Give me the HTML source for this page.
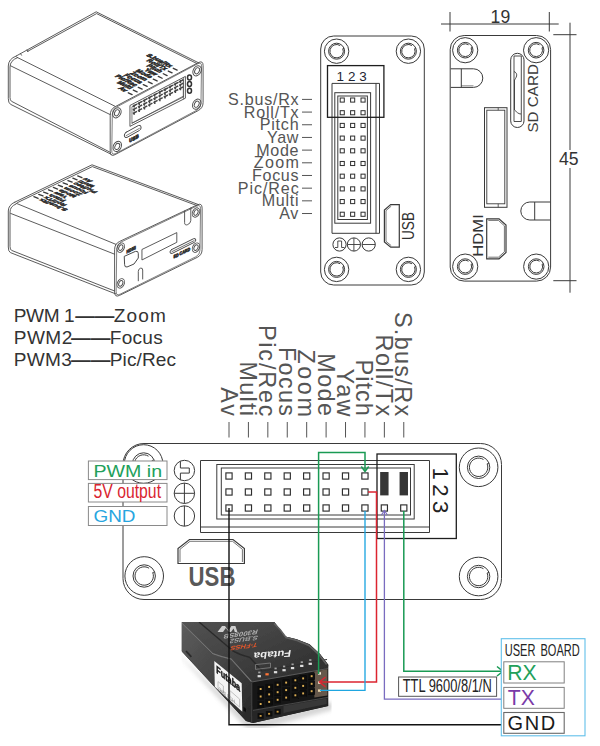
<!DOCTYPE html>
<html lang="en">
<head>
<meta charset="utf-8">
<title>Wiring diagram</title>
<style>
html,body{margin:0;padding:0;background:#fff;}
body{width:600px;height:746px;overflow:hidden;font-family:"Liberation Sans",sans-serif;}
svg{display:block;}
text{font-family:"Liberation Sans",sans-serif;}
.ln{fill:none;stroke:#3a3a3a;stroke-width:1;}
.iso{fill:none;stroke:#4a4a4a;stroke-width:0.9;stroke-linejoin:round;stroke-linecap:round;}
.blk{fill:none;stroke:#1e1e1e;stroke-width:1.3;}
.lbl{fill:#555;}
</style>
</head>
<body>
<svg width="600" height="746" viewBox="0 0 600 746">
<rect width="600" height="746" fill="#fff"/>

<g id="box1" class="iso"><path d="M16.2 56L96.2 11.8L199 63"/><path d="M27.5 51.4L96.6 13.6L197 63.6"/><path d="M20.5 53.6l1 1.6M27 50l1 1.6"/><path d="M16.2 56Q8.3 59 8.3 66V98.5Q8.3 103 10.5 104.3L111.2 154.3"/><path d="M17.5 57.6Q10 60.5 10 67V97.5Q10 100.3 11.5 101.3L110.2 152.3"/><path d="M16.8 57.2L114.7 106.1"/><path d="M10.6 65.8L110.2 114.6"/><path d="M110.20 114.80Q110.20 109.30 115.06 106.73L198.24 62.67Q203.10 60.10 203.10 65.60L203.10 102.50Q203.10 108.00 198.24 110.57L115.06 154.63Q110.20 157.20 110.20 151.70Z"/><path d="M112.33 113.77Q112.40 109.27 116.37 107.15L197.61 63.81Q201.58 61.69 201.51 66.19L200.97 103.53Q200.90 108.03 196.93 110.15L115.69 153.49Q111.72 155.61 111.79 151.11Z" stroke-width="0.7"/><ellipse cx="116.9" cy="112.8" rx="3.9" ry="5.4" transform="rotate(28 116.9 112.8)"/><ellipse cx="116.9" cy="112.8" rx="2.2" ry="3.3" transform="rotate(28 116.9 112.8)"/><ellipse cx="197.1" cy="70.8" rx="3.9" ry="5.4" transform="rotate(28 197.1 70.8)"/><ellipse cx="197.1" cy="70.8" rx="2.2" ry="3.3" transform="rotate(28 197.1 70.8)"/><ellipse cx="196.7" cy="104.2" rx="3.9" ry="5.4" transform="rotate(28 196.7 104.2)"/><ellipse cx="196.7" cy="104.2" rx="2.2" ry="3.3" transform="rotate(28 196.7 104.2)"/><ellipse cx="117.3" cy="146.4" rx="3.9" ry="5.4" transform="rotate(28 117.3 146.4)"/><ellipse cx="117.3" cy="146.4" rx="2.2" ry="3.3" transform="rotate(28 117.3 146.4)"/><path d="M130.3 105.3L185.4 76.4V98.2L130.3 126.2Z"/><path d="M132.3 106.6L183.4 79.8V97L132.3 123Z" stroke-width="0.7"/><path d="M183.4 77.6V98.8" stroke-width="0.7"/><g stroke="#454545" stroke-width="1.45" stroke-linecap="butt"><path d="M134.2 104.6v3M132.8 106.3l4.2 -2.2"/><path d="M134.2 108.2v3M132.8 109.9l4.2 -2.2"/><path d="M134.2 111.8v3M132.8 113.5l4.2 -2.2"/><path d="M139.3 101.9v3M137.9 103.6l4.2 -2.2"/><path d="M139.3 105.5v3M137.9 107.2l4.2 -2.2"/><path d="M139.3 109.1v3M137.9 110.8l4.2 -2.2"/><path d="M144.5 99.2v3M143.1 100.9l4.2 -2.2"/><path d="M144.5 102.8v3M143.1 104.5l4.2 -2.2"/><path d="M144.5 106.4v3M143.1 108.1l4.2 -2.2"/><path d="M149.6 96.4v3M148.2 98.1l4.2 -2.2"/><path d="M149.6 100.0v3M148.2 101.7l4.2 -2.2"/><path d="M149.6 103.6v3M148.2 105.3l4.2 -2.2"/><path d="M154.8 93.7v3M153.4 95.4l4.2 -2.2"/><path d="M154.8 97.3v3M153.4 99.0l4.2 -2.2"/><path d="M154.8 100.9v3M153.4 102.6l4.2 -2.2"/><path d="M159.9 91.0v3M158.5 92.7l4.2 -2.2"/><path d="M159.9 94.6v3M158.5 96.3l4.2 -2.2"/><path d="M159.9 98.2v3M158.5 99.9l4.2 -2.2"/><path d="M165.1 88.3v3M163.7 90.0l4.2 -2.2"/><path d="M165.1 91.9v3M163.7 93.6l4.2 -2.2"/><path d="M165.1 95.5v3M163.7 97.2l4.2 -2.2"/><path d="M170.2 85.6v3M168.8 87.3l4.2 -2.2"/><path d="M170.2 89.2v3M168.8 90.9l4.2 -2.2"/><path d="M170.2 92.8v3M168.8 94.5l4.2 -2.2"/><path d="M175.4 82.8v3M174.0 84.5l4.2 -2.2"/><path d="M175.4 86.4v3M174.0 88.1l4.2 -2.2"/><path d="M175.4 90.0v3M174.0 91.7l4.2 -2.2"/><path d="M180.5 80.1v3M179.1 81.8l4.2 -2.2"/><path d="M180.5 83.7v3M179.1 85.4l4.2 -2.2"/><path d="M180.5 87.3v3M179.1 89.0l4.2 -2.2"/></g><path d="M132 123.2L183.4 96.2" stroke-width="0.8"/><path d="M126 132.4L138.4 125.5Q141 124.6 141 127V128Q141 129.6 139.5 130.4L127 137.4Q124.4 138.2 124.4 136V135Q124.4 133.4 126 132.4Z" stroke-width="1"/><path d="M126.2 135.6L139.4 128.4" stroke-width="0.7"/><ellipse cx="189.5" cy="77.4" rx="2.0" ry="2.5" stroke="#333" stroke-width="1.5"/><ellipse cx="189.5" cy="84" rx="2.0" ry="2.5" stroke="#333" stroke-width="1.5"/><ellipse cx="189.5" cy="90.8" rx="2.0" ry="2.5" stroke="#333" stroke-width="1.5"/></g><g stroke="#3a3a3a" stroke-width="1.35" stroke-linecap="round"><path d="M173.30 68.30l3.8 1.8"/><path d="M168.30 71.02l3.8 1.8"/><path d="M163.30 73.74l3.8 1.8"/><path d="M158.30 76.46l3.8 1.8"/><path d="M153.30 79.18l3.8 1.8"/><path d="M148.30 81.90l3.8 1.8"/><path d="M143.30 84.62l3.8 1.8"/><path d="M138.30 87.34l3.8 1.8"/><path d="M133.30 90.06l3.8 1.8"/><path d="M128.30 92.78l3.8 1.8"/></g><g font-size="15" font-weight="bold" fill="#2e2e2e" stroke="#2e2e2e" stroke-width="1.7" text-anchor="end"><text transform="matrix(0.3755 0.1877 -0.3709 0.1966 169.70 67.50)">S.bus/Rx</text><text transform="matrix(0.3755 0.1877 -0.3709 0.1966 164.70 70.22)">Roll/Tx</text><text transform="matrix(0.3755 0.1877 -0.3709 0.1966 159.70 72.94)">Pitch</text><text transform="matrix(0.3755 0.1877 -0.3709 0.1966 154.70 75.66)">Yaw</text><text transform="matrix(0.3755 0.1877 -0.3709 0.1966 149.70 78.38)">Mode</text><text transform="matrix(0.3755 0.1877 -0.3709 0.1966 144.70 81.10)">Zoom</text><text transform="matrix(0.3755 0.1877 -0.3709 0.1966 139.70 83.82)">Focus</text><text transform="matrix(0.3755 0.1877 -0.3709 0.1966 134.70 86.54)">Pic/Rec</text><text transform="matrix(0.3755 0.1877 -0.3709 0.1966 129.70 89.26)">Multi</text><text transform="matrix(0.3755 0.1877 -0.3709 0.1966 124.70 91.98)">Av</text></g><text transform="matrix(0.34 -0.18 0 0.4 129.3 142.6)" font-size="13" font-weight="bold" fill="#333" stroke="#333" stroke-width="2">USB</text>
<g id="box2" class="iso"><path d="M14.7 202.2L92 164.8L198.5 204.6"/><path d="M17.5 202.6L92.3 166.6L197 205.6"/><path d="M14.7 202.2Q8.3 205 8.3 211V247Q8.3 251.6 10.4 252.6L116 294"/><path d="M16 204Q10 206.4 10 212V246.4Q10 249.6 11.6 250.4L114.6 291"/><path d="M16 203.2L116 244.4"/><path d="M10.6 213.4L114.6 254.2"/><path d="M114.60 249.30Q114.60 243.80 119.58 241.46L197.12 204.94Q202.10 202.60 202.10 208.10L202.10 249.50Q202.10 255.00 197.16 257.42L119.54 295.38Q114.60 297.80 114.60 292.30Z"/><path d="M116.72 248.60Q116.78 244.10 120.84 242.17L196.54 206.15Q200.60 204.21 200.54 208.71L199.98 250.24Q199.92 254.74 195.88 256.73L120.12 294.18Q116.08 296.17 116.14 291.67Z" stroke-width="0.7"/><ellipse cx="120.8" cy="247.6" rx="3.4" ry="4.9" transform="rotate(25 120.8 247.6)"/><ellipse cx="120.8" cy="247.6" rx="1.9" ry="3" transform="rotate(25 120.8 247.6)"/><ellipse cx="196" cy="212.5" rx="3.4" ry="4.9" transform="rotate(25 196 212.5)"/><ellipse cx="196" cy="212.5" rx="1.9" ry="3" transform="rotate(25 196 212.5)"/><ellipse cx="196" cy="247.6" rx="3.4" ry="4.9" transform="rotate(25 196 247.6)"/><ellipse cx="196" cy="247.6" rx="1.9" ry="3" transform="rotate(25 196 247.6)"/><ellipse cx="120.8" cy="283.4" rx="3.4" ry="4.9" transform="rotate(25 120.8 283.4)"/><ellipse cx="120.8" cy="283.4" rx="1.9" ry="3" transform="rotate(25 120.8 283.4)"/><path d="M124.6 256.2L135.4 251.4Q138.3 250.6 138.3 253.4V258L134 264L127 267Q124.6 267.4 124.6 265Z" stroke-width="1"/><path d="M142.3 249.3L176.8 232.6V242.3L142.3 259.8Z"/><path d="M171.6 249.6L193.6 238.7Q195.8 238 195.8 240Q195.8 241.6 194.2 242.4L172.2 253.4Q170 254 170 252Q170 250.4 171.6 249.6Z" stroke-width="1"/><path d="M172 251.6L194 240.7" stroke-width="0.8"/><path d="M184.6 211V222.6Q184.6 225.8 187.7 224.6Q190.8 223.2 190.8 220.4V208"/><path d="M138.3 280.8V271.4Q138.3 269 140.5 268.2Q142.7 267.6 142.7 270V279"/></g><g stroke="#3a3a3a" stroke-width="1.35" stroke-linecap="round"><path d="M33.90 196.70l4.2 1.6"/><path d="M38.77 194.39l4.2 1.6"/><path d="M43.64 192.08l4.2 1.6"/><path d="M48.51 189.77l4.2 1.6"/><path d="M53.38 187.46l4.2 1.6"/><path d="M58.25 185.15l4.2 1.6"/><path d="M63.12 182.84l4.2 1.6"/><path d="M67.99 180.53l4.2 1.6"/><path d="M72.86 178.22l4.2 1.6"/><path d="M77.73 175.91l4.2 1.6"/></g><g font-size="15" font-weight="bold" fill="#2e2e2e" stroke="#2e2e2e" stroke-width="1.7" text-anchor="end"><text transform="matrix(-0.4163 -0.1710 0.3332 -0.1587 41.50 198.60)">S.bus/Rx</text><text transform="matrix(-0.4163 -0.1710 0.3332 -0.1587 46.37 196.29)">Roll/Tx</text><text transform="matrix(-0.4163 -0.1710 0.3332 -0.1587 51.24 193.98)">Pitch</text><text transform="matrix(-0.4163 -0.1710 0.3332 -0.1587 56.11 191.67)">Yaw</text><text transform="matrix(-0.4163 -0.1710 0.3332 -0.1587 60.98 189.36)">Mode</text><text transform="matrix(-0.4163 -0.1710 0.3332 -0.1587 65.85 187.05)">Zoom</text><text transform="matrix(-0.4163 -0.1710 0.3332 -0.1587 70.72 184.74)">Focus</text><text transform="matrix(-0.4163 -0.1710 0.3332 -0.1587 75.59 182.43)">Pic/Rec</text><text transform="matrix(-0.4163 -0.1710 0.3332 -0.1587 80.46 180.12)">Multi</text><text transform="matrix(-0.4163 -0.1710 0.3332 -0.1587 85.33 177.81)">Av</text></g><text transform="matrix(0.33 -0.16 0 0.42 126.4 253.4)" font-size="11" font-weight="bold" fill="#333" stroke="#333" stroke-width="1.8">HDMI</text><text transform="matrix(0.33 -0.165 0 0.42 173.6 258.6)" font-size="11" font-weight="bold" fill="#333" stroke="#333" stroke-width="1.8">SD CARD</text>
<g id="frontview" class="ln">
<rect x="320.7" y="36" width="103.6" height="249" rx="13" ry="13"/>
<circle cx="336.6" cy="51.2" r="12.2"/><circle cx="336.6" cy="51.2" r="8"/><path d="M342.81 48.69A6.7 6.7 0 1 1 340.15 45.52"/><path d="M342.81 48.69L344.02 48.20"/>
<circle cx="408.4" cy="51.2" r="12.2"/><circle cx="408.4" cy="51.2" r="8"/><path d="M414.61 48.69A6.7 6.7 0 1 1 411.95 45.52"/><path d="M414.61 48.69L415.82 48.20"/>
<circle cx="336.6" cy="269.4" r="12.2"/><circle cx="336.6" cy="269.4" r="8"/><path d="M342.81 266.89A6.7 6.7 0 1 1 340.15 263.72"/><path d="M342.81 266.89L344.02 266.40"/>
<circle cx="408.4" cy="269.4" r="12.2"/><circle cx="408.4" cy="269.4" r="8"/><path d="M414.61 266.89A6.7 6.7 0 1 1 411.95 263.72"/><path d="M414.61 266.89L415.82 266.40"/>
<path d="M332 233.3V83.4H379.5V233.3Z"/>
<path d="M376 83.4V233.3"/>
<rect x="334.8" y="92.7" width="35.8" height="130.5"/>
<rect x="337.8" y="96" width="29.6" height="123.5"/>
<rect x="340.20" y="98.00" width="4.1" height="4.1" stroke="#2e2e2e" stroke-width="1"/>
<rect x="350.60" y="98.00" width="4.1" height="4.1" stroke="#2e2e2e" stroke-width="1"/>
<rect x="361.00" y="98.00" width="4.1" height="4.1" stroke="#2e2e2e" stroke-width="1"/>
<rect x="340.20" y="110.69" width="4.1" height="4.1" stroke="#2e2e2e" stroke-width="1"/>
<rect x="350.60" y="110.69" width="4.1" height="4.1" stroke="#2e2e2e" stroke-width="1"/>
<rect x="361.00" y="110.69" width="4.1" height="4.1" stroke="#2e2e2e" stroke-width="1"/>
<rect x="340.20" y="123.38" width="4.1" height="4.1" stroke="#2e2e2e" stroke-width="1"/>
<rect x="350.60" y="123.38" width="4.1" height="4.1" stroke="#2e2e2e" stroke-width="1"/>
<rect x="361.00" y="123.38" width="4.1" height="4.1" stroke="#2e2e2e" stroke-width="1"/>
<rect x="340.20" y="136.07" width="4.1" height="4.1" stroke="#2e2e2e" stroke-width="1"/>
<rect x="350.60" y="136.07" width="4.1" height="4.1" stroke="#2e2e2e" stroke-width="1"/>
<rect x="361.00" y="136.07" width="4.1" height="4.1" stroke="#2e2e2e" stroke-width="1"/>
<rect x="340.20" y="148.76" width="4.1" height="4.1" stroke="#2e2e2e" stroke-width="1"/>
<rect x="350.60" y="148.76" width="4.1" height="4.1" stroke="#2e2e2e" stroke-width="1"/>
<rect x="361.00" y="148.76" width="4.1" height="4.1" stroke="#2e2e2e" stroke-width="1"/>
<rect x="340.20" y="161.45" width="4.1" height="4.1" stroke="#2e2e2e" stroke-width="1"/>
<rect x="350.60" y="161.45" width="4.1" height="4.1" stroke="#2e2e2e" stroke-width="1"/>
<rect x="361.00" y="161.45" width="4.1" height="4.1" stroke="#2e2e2e" stroke-width="1"/>
<rect x="340.20" y="174.14" width="4.1" height="4.1" stroke="#2e2e2e" stroke-width="1"/>
<rect x="350.60" y="174.14" width="4.1" height="4.1" stroke="#2e2e2e" stroke-width="1"/>
<rect x="361.00" y="174.14" width="4.1" height="4.1" stroke="#2e2e2e" stroke-width="1"/>
<rect x="340.20" y="186.83" width="4.1" height="4.1" stroke="#2e2e2e" stroke-width="1"/>
<rect x="350.60" y="186.83" width="4.1" height="4.1" stroke="#2e2e2e" stroke-width="1"/>
<rect x="361.00" y="186.83" width="4.1" height="4.1" stroke="#2e2e2e" stroke-width="1"/>
<rect x="340.20" y="199.52" width="4.1" height="4.1" stroke="#2e2e2e" stroke-width="1"/>
<rect x="350.60" y="199.52" width="4.1" height="4.1" stroke="#2e2e2e" stroke-width="1"/>
<rect x="361.00" y="199.52" width="4.1" height="4.1" stroke="#2e2e2e" stroke-width="1"/>
<rect x="340.20" y="212.21" width="4.1" height="4.1" stroke="#2e2e2e" stroke-width="1"/>
<rect x="350.60" y="212.21" width="4.1" height="4.1" stroke="#2e2e2e" stroke-width="1"/>
<rect x="361.00" y="212.21" width="4.1" height="4.1" stroke="#2e2e2e" stroke-width="1"/>
<circle cx="339.5" cy="244.5" r="6.6"/><circle cx="353.9" cy="244.5" r="6.6"/><circle cx="368.7" cy="244.5" r="6.6"/>
<path d="M335 247.5H337.8V241H341.6V247.5H344.5" stroke-width="0.9"/>
<path d="M347.3 244.5H360.5M353.9 237.9V251.1" stroke-width="0.9"/>
<path d="M362.1 244.5H375.3" stroke-width="0.9"/>
<path d="M399.3 204.6H390.7L384.4 210V242L390.7 247.1H399.3Z" stroke-width="1.2"/>
<path d="M391.2 206.2L386 210.6V241.4L391.2 245.6" stroke-width="0.7"/>
</g>
<rect class="blk" x="327.5" y="65.6" width="56.4" height="51.7"/>
<text x="336.6" y="80.8" font-size="13.4" fill="#1d2433" textLength="30.2" lengthAdjust="spacing">1 2 3</text>
<text transform="translate(413.6 240) rotate(-90)" font-size="16" fill="#333" textLength="28" lengthAdjust="spacingAndGlyphs">USB</text>
<g id="labels" class="lbl" font-size="16.1">
<text x="228.05" y="104.90" textLength="70.61" lengthAdjust="spacing">S.bus/Rx</text>
<text x="243.85" y="117.58" textLength="54.82" lengthAdjust="spacing">Roll/Tx</text>
<text x="259.75" y="130.26" textLength="38.86" lengthAdjust="spacing">Pitch</text>
<text x="267.05" y="142.94" textLength="31.36" lengthAdjust="spacing">Yaw</text>
<text x="256.15" y="155.62" textLength="42.37" lengthAdjust="spacing">Mode</text>
<text x="253.75" y="168.30" textLength="45.28" lengthAdjust="spacing">Zoom</text>
<text x="251.95" y="180.98" textLength="46.60" lengthAdjust="spacing">Focus</text>
<text x="237.75" y="193.66" textLength="61.05" lengthAdjust="spacing">Pic/Rec</text>
<text x="261.65" y="206.34" textLength="36.94" lengthAdjust="spacing">Multi</text>
<text x="279.25" y="219.02" textLength="19.00" lengthAdjust="spacing">Av</text>
</g>
<g stroke="#555" stroke-width="1">
<path d="M302 99.40H312"/>
<path d="M302 112.08H312"/>
<path d="M302 124.76H312"/>
<path d="M302 137.44H312"/>
<path d="M302 150.12H312"/>
<path d="M302 162.80H312"/>
<path d="M302 175.48H312"/>
<path d="M302 188.16H312"/>
<path d="M302 200.84H312"/>
<path d="M302 213.52H312"/>
</g>
<g id="sideview" class="ln">
<rect x="450.2" y="35.5" width="100.4" height="245.6" rx="14" ry="14"/>
<circle cx="465.2" cy="50.2" r="12.6"/><circle cx="465.2" cy="50.2" r="7.8"/><path d="M471.13 47.80A6.4 6.4 0 1 1 468.59 44.77"/><path d="M471.13 47.80L472.43 47.28"/>
<circle cx="536.1" cy="50.2" r="12.6"/><circle cx="536.1" cy="50.2" r="7.8"/><path d="M542.03 47.80A6.4 6.4 0 1 1 539.49 44.77"/><path d="M542.03 47.80L543.33 47.28"/>
<circle cx="465.2" cy="266.6" r="12.6"/><circle cx="465.2" cy="266.6" r="7.8"/><path d="M471.13 264.20A6.4 6.4 0 1 1 468.59 261.17"/><path d="M471.13 264.20L472.43 263.68"/>
<circle cx="536.2" cy="266.6" r="12.6"/><circle cx="536.2" cy="266.6" r="7.8"/><path d="M542.13 264.20A6.4 6.4 0 1 1 539.59 261.17"/><path d="M542.13 264.20L543.43 263.68"/>
<path d="M450.7 68.8H473.5A9.3 9.3 0 0 1 473.5 87.4H450.7"/>
<path d="M461.3 68.8V87.4"/>
<path d="M461.3 85.8H473.5" stroke-width="0.6"/>
<path d="M550.3 202H529.8A9 9 0 0 0 529.8 220H550.3"/>
<path d="M534.7 202V220"/>
<rect x="510.7" y="53.3" width="13.3" height="74.2" rx="6.6"/>
<path d="M514 56H521.3V121.5H514Z" stroke-width="0.9"/>
<path d="M514 71.5C517.5 73 517.5 76 514.5 80V110C517 112 518 114 521 114" stroke-width="0.9"/>
<rect x="484.5" y="107.7" width="22.5" height="99.6"/>
<rect x="486.8" y="110.2" width="18" height="93.6" stroke-width="0.9"/>
<path d="M498.2 107.7V110.2M498.2 203.8V207.3" stroke-width="0.8"/>
<path d="M486.7 218.8H499L506 225V252.5L499 258.8H486.7Z" stroke-width="1.2"/>
<path d="M488.3 220.4H498.4L504.4 225.8V251.8L498.4 257.2H488.3" stroke-width="0.7"/>
</g>
<text transform="translate(538.2 132.6) rotate(-90)" font-size="15" fill="#3d3d3d" textLength="68.5" lengthAdjust="spacingAndGlyphs">SD CARD</text>
<text transform="translate(482.6 256.7) rotate(-90)" font-size="14.8" fill="#333" textLength="42.5" lengthAdjust="spacingAndGlyphs">HDMI</text>
<g class="ln" stroke="#444">
<path d="M441 24H558.7M450 12V31.5M549.3 12V31.5"/>
<path d="M570 22.7V150M570 168V292.7M553.3 34.7H576.5M553.3 280.7H576.5"/>
</g>
<text x="500.4" y="22.8" font-size="17.6" fill="#333" text-anchor="middle">19</text>
<text x="568.8" y="164.8" font-size="17.6" fill="#333" text-anchor="middle">45</text>
<g fill="#333" font-size="17.5">
<text transform="translate(0 321.7) scale(1.09 1)"><tspan x="12.66" textLength="55.87" lengthAdjust="spacing">PWM 1</tspan><tspan x="68.99" textLength="35.96" lengthAdjust="spacingAndGlyphs" font-weight="bold">——</tspan><tspan x="104.40" textLength="47.89" lengthAdjust="spacing">Zoom</tspan></text>
<text transform="translate(0 344.0) scale(1.09 1)"><tspan x="12.66" textLength="53.67" lengthAdjust="spacing">PWM2</tspan><tspan x="65.14" textLength="36.15" lengthAdjust="spacingAndGlyphs" font-weight="bold">——</tspan><tspan x="100.73" textLength="48.53" lengthAdjust="spacing">Focus</tspan></text>
<text transform="translate(0 366.2) scale(1.09 1)"><tspan x="12.66" textLength="53.21" lengthAdjust="spacing">PWM3</tspan><tspan x="65.14" textLength="36.15" lengthAdjust="spacingAndGlyphs" font-weight="bold">——</tspan><tspan x="100.73" textLength="60.73" lengthAdjust="spacing">Pic/Rec</tspan></text>
</g>
<g id="plate" class="ln">
<rect x="123" y="443.5" width="378.5" height="156" rx="21" ry="21"/>
<circle cx="143.6" cy="464" r="19.3"/><circle cx="143.6" cy="464" r="11.2"/><path d="M152.13 460.55A9.2 9.2 0 1 1 148.48 456.20"/><path d="M152.13 460.55L153.98 459.80"/>
<circle cx="478.6" cy="467.3" r="19.3"/><circle cx="478.6" cy="467.3" r="11.2"/><path d="M487.13 463.85A9.2 9.2 0 1 1 483.48 459.50"/><path d="M487.13 463.85L488.98 463.10"/>
<circle cx="144.2" cy="576" r="19.3"/><circle cx="144.2" cy="576" r="11.2"/><path d="M152.73 572.55A9.2 9.2 0 1 1 149.08 568.20"/><path d="M152.73 572.55L154.58 571.80"/>
<circle cx="478.6" cy="576.5" r="19.3"/><circle cx="478.6" cy="576.5" r="11.2"/><path d="M487.13 573.05A9.2 9.2 0 1 1 483.48 568.70"/><path d="M487.13 573.05L488.98 572.30"/>
<path d="M200.5 460.5H429.5V532.5H200.5Z"/>
<path d="M200.5 527H429.5"/>
<rect x="216.8" y="464.5" width="197.4" height="54.5"/>
<rect x="221.3" y="468" width="189.2" height="47"/>
<rect x="225.90" y="472.90" width="6.2" height="6.2" stroke="#2e2e2e" stroke-width="1.15"/>
<rect x="225.90" y="488.90" width="6.2" height="6.2" stroke="#2e2e2e" stroke-width="1.15"/>
<rect x="225.90" y="504.90" width="6.2" height="6.2" stroke="#2e2e2e" stroke-width="1.15"/>
<rect x="245.32" y="472.90" width="6.2" height="6.2" stroke="#2e2e2e" stroke-width="1.15"/>
<rect x="245.32" y="488.90" width="6.2" height="6.2" stroke="#2e2e2e" stroke-width="1.15"/>
<rect x="245.32" y="504.90" width="6.2" height="6.2" stroke="#2e2e2e" stroke-width="1.15"/>
<rect x="264.74" y="472.90" width="6.2" height="6.2" stroke="#2e2e2e" stroke-width="1.15"/>
<rect x="264.74" y="488.90" width="6.2" height="6.2" stroke="#2e2e2e" stroke-width="1.15"/>
<rect x="264.74" y="504.90" width="6.2" height="6.2" stroke="#2e2e2e" stroke-width="1.15"/>
<rect x="284.16" y="472.90" width="6.2" height="6.2" stroke="#2e2e2e" stroke-width="1.15"/>
<rect x="284.16" y="488.90" width="6.2" height="6.2" stroke="#2e2e2e" stroke-width="1.15"/>
<rect x="284.16" y="504.90" width="6.2" height="6.2" stroke="#2e2e2e" stroke-width="1.15"/>
<rect x="303.58" y="472.90" width="6.2" height="6.2" stroke="#2e2e2e" stroke-width="1.15"/>
<rect x="303.58" y="488.90" width="6.2" height="6.2" stroke="#2e2e2e" stroke-width="1.15"/>
<rect x="303.58" y="504.90" width="6.2" height="6.2" stroke="#2e2e2e" stroke-width="1.15"/>
<rect x="323.00" y="472.90" width="6.2" height="6.2" stroke="#2e2e2e" stroke-width="1.15"/>
<rect x="323.00" y="488.90" width="6.2" height="6.2" stroke="#2e2e2e" stroke-width="1.15"/>
<rect x="323.00" y="504.90" width="6.2" height="6.2" stroke="#2e2e2e" stroke-width="1.15"/>
<rect x="342.42" y="472.90" width="6.2" height="6.2" stroke="#2e2e2e" stroke-width="1.15"/>
<rect x="342.42" y="488.90" width="6.2" height="6.2" stroke="#2e2e2e" stroke-width="1.15"/>
<rect x="342.42" y="504.90" width="6.2" height="6.2" stroke="#2e2e2e" stroke-width="1.15"/>
<rect x="361.84" y="472.90" width="6.2" height="6.2" stroke="#2e2e2e" stroke-width="1.15"/>
<rect x="361.84" y="488.90" width="6.2" height="6.2" stroke="#2e2e2e" stroke-width="1.15"/>
<rect x="361.84" y="504.90" width="6.2" height="6.2" stroke="#2e2e2e" stroke-width="1.15"/>
<rect x="381.26" y="504.90" width="6.2" height="6.2" stroke="#2e2e2e" stroke-width="1.15"/>
<rect x="400.68" y="504.90" width="6.2" height="6.2" stroke="#2e2e2e" stroke-width="1.15"/>
<circle cx="184.4" cy="470.5" r="10.2"/>
<circle cx="184.4" cy="493.3" r="10.2"/>
<circle cx="184.4" cy="516" r="10.2"/>
<path d="M180.4 461.2V468H189.3V473.1H180.4V479.9"/>
<path d="M174.2 493.3H194.6M184.4 483.1V503.5"/>
<path d="M184.4 505.8V526.2"/>
<path d="M178 563.5V548.5L189.5 539.5H233L244.4 548.5V563.5Z" stroke-width="1.2"/>
<path d="M180 562V549.3L190 541.3H232.5L242.4 549.3V562" stroke-width="0.7"/>
</g>
<rect x="380.16" y="472" width="8.4" height="23.4" fill="#363636"/>
<rect x="399.58" y="472" width="8.4" height="23.4" fill="#363636"/>
<rect class="blk" x="377" y="454" width="79.3" height="84.5"/>
<text transform="translate(432.6 467.6) rotate(90)" font-size="22.2" fill="#222" textLength="45.8" lengthAdjust="spacing">1 2 3</text>
<text x="188.6" y="586" font-size="27" font-weight="bold" fill="#595959" textLength="46.8" lengthAdjust="spacingAndGlyphs">USB</text>
<rect x="88.4" y="461" width="78.6" height="18.6" fill="#fff" stroke="#8a8a8a" stroke-width="1"/>
<rect x="88.4" y="483.4" width="78.6" height="18.6" fill="#fff" stroke="#8a8a8a" stroke-width="1"/>
<rect x="88.4" y="506.5" width="78.6" height="19" fill="#fff" stroke="#8a8a8a" stroke-width="1"/>
<text x="93.5" y="477.3" font-size="17.4" fill="#22a05a" textLength="68.6" lengthAdjust="spacingAndGlyphs">PWM in</text>
<text transform="translate(93.5 497.6) scale(0.8 1)" font-size="19.6" fill="#d9242f" textLength="84.4" lengthAdjust="spacingAndGlyphs">5V output</text>
<text x="93.5" y="521.5" font-size="17.4" fill="#27a5df" textLength="42" lengthAdjust="spacingAndGlyphs">GND</text>
<g class="lbl" font-size="23.4">
<text transform="translate(395.28 311.89) rotate(90)" textLength="104.27" lengthAdjust="spacing">S.bus/Rx</text>
<text transform="translate(375.86 334.59) rotate(90)" textLength="81.67" lengthAdjust="spacing">Roll/Tx</text>
<text transform="translate(356.44 359.49) rotate(90)" textLength="56.38" lengthAdjust="spacing">Pitch</text>
<text transform="translate(337.02 368.39) rotate(90)" textLength="48.02" lengthAdjust="spacing">Yaw</text>
<text transform="translate(317.60 353.29) rotate(90)" textLength="62.76" lengthAdjust="spacing">Mode</text>
<text transform="translate(298.18 349.49) rotate(90)" textLength="67.40" lengthAdjust="spacing">Zoom</text>
<text transform="translate(278.76 346.89) rotate(90)" textLength="69.20" lengthAdjust="spacing">Focus</text>
<text transform="translate(259.34 324.89) rotate(90)" textLength="91.69" lengthAdjust="spacing">Pic/Rec</text>
<text transform="translate(239.92 361.59) rotate(90)" textLength="54.41" lengthAdjust="spacing">Multi</text>
<text transform="translate(220.50 387.19) rotate(90)" textLength="28.72" lengthAdjust="spacing">Av</text>
</g>
<g stroke="#555" stroke-width="1">
<path d="M229.00 422V437.5"/>
<path d="M248.42 422V437.5"/>
<path d="M267.84 422V437.5"/>
<path d="M287.26 422V437.5"/>
<path d="M306.68 422V437.5"/>
<path d="M326.10 422V437.5"/>
<path d="M345.52 422V437.5"/>
<path d="M364.94 422V437.5"/>
<path d="M384.36 422V437.5"/>
<path d="M403.78 422V437.5"/>
</g>
<defs>
<filter id="soft" x="-5%" y="-5%" width="110%" height="110%"><feGaussianBlur stdDeviation="0.55"/></filter>
<filter id="soft2" x="-20%" y="-20%" width="140%" height="140%"><feGaussianBlur stdDeviation="2.2"/></filter>
<linearGradient id="gTop" x1="0" y1="0" x2="1" y2="0.9"><stop offset="0" stop-color="#545454"/><stop offset="0.45" stop-color="#434343"/><stop offset="1" stop-color="#2c2c2c"/></linearGradient>
<linearGradient id="gLeft" x1="0" y1="0" x2="1" y2="1"><stop offset="0" stop-color="#5e5e5e"/><stop offset="0.5" stop-color="#444"/><stop offset="1" stop-color="#262626"/></linearGradient>
<clipPath id="photo"><rect x="181.6" y="622" width="150" height="106"/></clipPath>
</defs>
<g id="receiver" clip-path="url(#photo)">
<path d="M176 652L246 728L262 729L332 710L334 702L250 720Z" fill="#c4c4c4" filter="url(#soft2)" opacity="0.7"/>
<g filter="url(#soft)">
<path d="M180 620H272.7L279 628L285.4 636.4L296.7 639.2L309.5 644.2L320 654L328.3 664.7V706L253 723L246 721L180 649.5Z" fill="#191919"/>
<path d="M180 620H272.7L279 628L285.4 636.4L296.7 639.2L309.5 644.2L320 654L328.3 664.7L327.8 668.6L251.5 682L231.3 659.6L212.7 654.4L180 622Z" fill="url(#gTop)"/>
<path d="M180 622L212.7 654.4L231.3 659.6L251.5 682L253 723L246 721L180 649.5Z" fill="url(#gLeft)"/>
<path d="M180 621.4L212.7 653.6Q222 657 231.3 659.2L251.5 681.6" fill="none" stroke="#747474" stroke-width="1.2"/>
<path d="M199 622L233 651Q240 655 250 657.6L262 671" fill="none" stroke="#2b2b2b" stroke-width="1.5"/>
<path d="M262 671L327 659.5" fill="none" stroke="#2e2e2e" stroke-width="1.2"/>
<path d="M274 623.5L280 629.5L286 637.6L297 640.6L309 645.4L319 654.6L326.6 664.4" fill="none" stroke="#606060" stroke-width="1.6"/>
<path d="M186 651l5.4 5.8" stroke="#2c2c2c" stroke-width="1.8" fill="none"/>
<path d="M251.5 682L327.8 668.6" stroke="#5a5a5a" stroke-width="1" fill="none"/>
<path d="M253 710.4L327.8 697.4V706L253 723Z" fill="#262626"/>
<path d="M253 710.4L327.8 697.4" stroke="#474747" stroke-width="1" fill="none"/>
<path d="M283.5 706L326.6 698.6V704L283.5 713Z" fill="#383838"/>
<path d="M314.4 671.5L327.4 669.2V695.4L314.4 697.6Z" fill="#66584b"/>
<path d="M251.6 683V722" stroke="#3c3c3c" stroke-width="1.2" fill="none"/>
<path d="M214.3 661.1L241.7 683.3L242.3 711.8L214.8 686.8Z" fill="#f4f4f4"/>
<path d="M218 688.6l5.4 4.6v-7.2l-5.4 -4.4zM230 698.5l9.6 8.6v-8l-9.6 -8.4z" fill="none" stroke="#b5b5b5" stroke-width="0.8"/>
<path d="M243.4 706.4l2.6 2.2v4l-2.6 -2.2z" fill="#111"/>
</g>
<g filter="url(#soft)">
<text transform="matrix(0.7 0.57 0 1 216.3 672.4)" font-size="10.4" font-weight="bold" fill="#151515" stroke="#151515" stroke-width="0.5">Futaba</text>
<text transform="matrix(0.62 0.5 0 0.9 218.6 690.6)" font-size="6" fill="#777">(HB)  FCH</text>
<text transform="matrix(-0.95 0.07 0.12 -0.8 291.6 650)" font-size="12" font-weight="bold" fill="#ededed">Futaba</text>
<text transform="matrix(-0.9 0.12 0.25 -0.75 258.5 629.6)" font-size="8.8" font-weight="bold" fill="#b0b0b0">R3008SB</text>
<text transform="matrix(-0.9 0.12 0.25 -0.75 258.5 635.4)" font-size="8.6" font-weight="bold" fill="#a5a5a5">S.BUS2</text>
<text transform="matrix(-0.9 0.12 0.25 -0.75 258 642.6)" font-size="8.4" font-weight="bold" fill="#e5562a">T-FHSS</text>
<path d="M217.5 632l4.5 -6h3l3.4 4.4 3 -4.4h4l2 6h-2.6l-1.2 -3.6-2.6 3.6h-2l-3.2 -4-2.8 4z" fill="#cfcfcf"/>
</g>
<g filter="url(#soft)"><rect x="257.6" y="675.1" width="3.3" height="2.2" fill="#dedede"/><rect x="258.2" y="671.6" width="2.2" height="1.7" fill="#a2a2a2"/><rect x="265.4" y="673.2" width="3.3" height="2.2" fill="#ff7435"/><rect x="273.9" y="671.1" width="3.3" height="2.2" fill="#dedede"/><rect x="274.5" y="667.6" width="2.2" height="1.7" fill="#a2a2a2"/><rect x="282.4" y="669.1" width="3.3" height="2.2" fill="#dedede"/><rect x="283.0" y="665.6" width="2.2" height="1.7" fill="#a2a2a2"/><rect x="290.9" y="667.0" width="3.3" height="2.2" fill="#dedede"/><rect x="291.5" y="663.5" width="2.2" height="1.7" fill="#a2a2a2"/><rect x="300.1" y="664.8" width="3.3" height="2.2" fill="#dedede"/><rect x="300.7" y="661.3" width="2.2" height="1.7" fill="#a2a2a2"/><rect x="308.6" y="662.7" width="3.3" height="2.2" fill="#dedede"/><rect x="309.2" y="659.2" width="2.2" height="1.7" fill="#a2a2a2"/><path d="M255.5 664.6l15 -1.6v4.6l-15 1.8z" fill="none" stroke="#8c8c8c" stroke-width="0.7"/><path d="M257.2 686.0h6.8v6.4h-6.8z" fill="#0b0b0b"/><rect x="259.7" y="688.0" width="1.9" height="2.0" fill="#dcae55"/><path d="M257.2 693.5h6.8v6.4h-6.8z" fill="#0b0b0b"/><rect x="259.7" y="695.5" width="1.9" height="2.0" fill="#dcae55"/><path d="M257.2 701.0h6.8v6.4h-6.8z" fill="#0b0b0b"/><rect x="259.7" y="703.0" width="1.9" height="2.0" fill="#dcae55"/><path d="M265.7 683.9h6.8v6.4h-6.8z" fill="#0b0b0b"/><rect x="268.2" y="685.9" width="1.9" height="2.0" fill="#dcae55"/><path d="M265.7 691.4h6.8v6.4h-6.8z" fill="#0b0b0b"/><rect x="268.2" y="693.4" width="1.9" height="2.0" fill="#dcae55"/><path d="M265.7 698.9h6.8v6.4h-6.8z" fill="#0b0b0b"/><rect x="268.2" y="700.9" width="1.9" height="2.0" fill="#dcae55"/><path d="M274.2 681.8h6.8v6.4h-6.8z" fill="#0b0b0b"/><rect x="276.7" y="683.8" width="1.9" height="2.0" fill="#dcae55"/><path d="M274.2 689.2h6.8v6.4h-6.8z" fill="#0b0b0b"/><rect x="276.7" y="691.2" width="1.9" height="2.0" fill="#dcae55"/><path d="M274.2 696.8h6.8v6.4h-6.8z" fill="#0b0b0b"/><rect x="276.7" y="698.8" width="1.9" height="2.0" fill="#dcae55"/><path d="M282.7 679.6h6.8v6.4h-6.8z" fill="#0b0b0b"/><rect x="285.2" y="681.6" width="1.9" height="2.0" fill="#dcae55"/><path d="M282.7 687.1h6.8v6.4h-6.8z" fill="#0b0b0b"/><rect x="285.2" y="689.1" width="1.9" height="2.0" fill="#dcae55"/><path d="M282.7 694.6h6.8v6.4h-6.8z" fill="#0b0b0b"/><rect x="285.2" y="696.6" width="1.9" height="2.0" fill="#dcae55"/><path d="M291.9 677.3h6.8v6.4h-6.8z" fill="#0b0b0b"/><rect x="294.4" y="679.3" width="1.9" height="2.0" fill="#dcae55"/><path d="M291.9 684.8h6.8v6.4h-6.8z" fill="#0b0b0b"/><rect x="294.4" y="686.8" width="1.9" height="2.0" fill="#dcae55"/><path d="M291.9 692.3h6.8v6.4h-6.8z" fill="#0b0b0b"/><rect x="294.4" y="694.3" width="1.9" height="2.0" fill="#dcae55"/><path d="M299.7 675.4h6.8v6.4h-6.8z" fill="#0b0b0b"/><rect x="302.2" y="677.4" width="1.9" height="2.0" fill="#dcae55"/><path d="M299.7 682.9h6.8v6.4h-6.8z" fill="#0b0b0b"/><rect x="302.2" y="684.9" width="1.9" height="2.0" fill="#dcae55"/><path d="M299.7 690.4h6.8v6.4h-6.8z" fill="#0b0b0b"/><rect x="302.2" y="692.4" width="1.9" height="2.0" fill="#dcae55"/><path d="M308.2 673.2h6.8v6.4h-6.8z" fill="#0b0b0b"/><rect x="310.7" y="675.2" width="1.9" height="2.0" fill="#dcae55"/><path d="M308.2 680.8h6.8v6.4h-6.8z" fill="#0b0b0b"/><rect x="310.7" y="682.8" width="1.9" height="2.0" fill="#dcae55"/><path d="M308.2 688.2h6.8v6.4h-6.8z" fill="#0b0b0b"/><rect x="310.7" y="690.2" width="1.9" height="2.0" fill="#dcae55"/><path d="M257.4 713.1h6.4v5.4h-6.4z" fill="#0d0d0d"/><rect x="259.6" y="715.0" width="2.0" height="1.8" fill="#cc9c42"/><path d="M265.9 711.0h6.4v5.4h-6.4z" fill="#0d0d0d"/><rect x="268.1" y="712.9" width="2.0" height="1.8" fill="#cc9c42"/><path d="M274.4 708.9h6.4v5.4h-6.4z" fill="#0d0d0d"/><rect x="276.6" y="710.8" width="2.0" height="1.8" fill="#cc9c42"/><rect x="318" y="672.2" width="3" height="2.4" fill="#f6efe0"/><rect x="318" y="681.4" width="3" height="2.4" fill="#f1e3c4"/><rect x="318" y="689.4" width="3" height="2.4" fill="#e6d3a8"/></g></g>
<g fill="none" stroke-width="1.5" stroke-linejoin="miter">
<path d="M365 470V452.5H318.6V674" stroke="#1a9a54"/>
<path d="M361.3 466.5L365 471.5L368.7 466.5" stroke="#1a9a54"/>
<path d="M368 492H376.5V682H320" stroke="#dc2430"/>
<path d="M325.5 677L319.5 682L325.5 687" stroke="#dc2430"/>
<path d="M365 511V690.3H320" stroke="#1fa6e0" stroke-width="1.35"/>
<path d="M384.4 511V699.1H503" stroke="#7a6cc0" stroke-width="1.3"/>
<path d="M381.4 515L384.4 510.5L387.4 515" stroke="#7a6cc0" stroke-width="1.1"/>
<path d="M403.8 511V671.3H503" stroke="#1a9a54"/>
<path d="M497 666.5L503 671.3L497 676" stroke="#1a9a54"/>
<path d="M229 508V724.8H503" stroke="#111" stroke-width="1.4"/>
</g>
<rect x="501.3" y="638.7" width="83.7" height="97.1" fill="#fff" stroke="#62c0ea" stroke-width="1.1"/>
<text x="504.7" y="656" font-size="16.6" fill="#222" textLength="75" lengthAdjust="spacingAndGlyphs" word-spacing="3">USER BOARD</text>
<rect x="503.8" y="661.8" width="60.4" height="21.2" fill="#fff" stroke="#808080" stroke-width="1"/>
<rect x="503.8" y="687.4" width="60.4" height="20.9" fill="#fff" stroke="#808080" stroke-width="1"/>
<rect x="503.8" y="712.5" width="60.4" height="20.8" fill="#fff" stroke="#6a6a6a" stroke-width="1.1"/>
<text x="507.2" y="679.8" font-size="21.2" fill="#22a05a">RX</text>
<text x="507.8" y="705" font-size="21.2" fill="#7a3aa8">TX</text>
<text x="507.6" y="729.8" font-size="20" fill="#1a1a1a" textLength="47.6" lengthAdjust="spacing">GND</text>
<rect x="398.6" y="677" width="98" height="19.3" fill="#fff" stroke="#555" stroke-width="1"/>
<text x="402.7" y="691.6" font-size="17.6" fill="#222" textLength="89" lengthAdjust="spacingAndGlyphs">TTL 9600/8/1/N</text>
</svg>
</body>
</html>
